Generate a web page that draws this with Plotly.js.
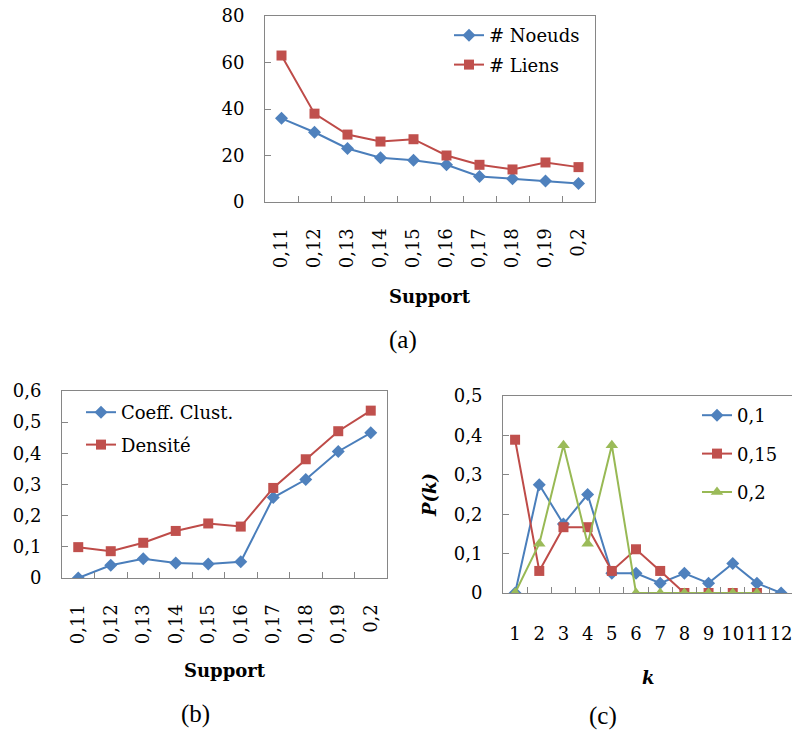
<!DOCTYPE html>
<html>
<head>
<meta charset="utf-8">
<script src="https://cdn.plot.ly/plotly-3.0.1.min.js"></script>
<style>
html,body{margin:0;padding:0;background:#fff;overflow:hidden;}
#chart{width:792px;height:731px;}
</style>
</head>
<body>
<div id="chart"></div>
<script>
// ---- Data ----
const supports = ['0,11','0,12','0,13','0,14','0,15','0,16','0,17','0,18','0,19','0,2'];
const noeuds = [36, 30, 23, 19, 18, 16, 11, 10, 9, 8];
const liens = [63, 38, 29, 26, 27, 20, 16, 14, 17, 15];
const coeffClust = [0, 0.041, 0.062, 0.048, 0.045, 0.052, 0.258, 0.316, 0.406, 0.466];
const densite = [0.099, 0.086, 0.113, 0.151, 0.175, 0.165, 0.289, 0.381, 0.471, 0.537];
const kAll = ['1','2','3','4','5','6','7','8','9','10','11','12'];
const k11 = ['1','2','3','4','5','6','7','8','9','10','11'];
const pk01 = [0, 0.275, 0.175, 0.25, 0.05, 0.05, 0.025, 0.05, 0.025, 0.075, 0.025, 0];
const pk015 = [0.389, 0.056, 0.167, 0.167, 0.056, 0.111, 0.056, 0, 0, 0, 0];
const pk02 = [0, 0.125, 0.375, 0.125, 0.375, 0, 0, 0, 0, 0, 0];

// ---- Styling ----
const W = 792, H = 731;
const px = v => v / W;
const py = v => 1 - v / H;
const BLUE_L = '#4A7EBB', BLUE_M = '#4F81BD';
const RED_L = '#BE4B48', RED_M = '#C0504D';
const GREEN_L = '#98B954', GREEN_M = '#9BBB59';
const FONT = 'DejaVu Serif';
const AX = '#868686';

function lineTrace(x, y, name, lc, mc, sym, size, xa, ya, legend, group) {
  return {
    x: x, y: y, name: name, type: 'scatter', mode: 'lines+markers',
    line: {color: lc, width: 2},
    marker: {color: mc, symbol: sym, size: size},
    xaxis: xa, yaxis: ya, legend: legend, legendgroup: group,
    hoverinfo: 'skip'
  };
}

const traces = [
  lineTrace(supports, noeuds, '# Noeuds', BLUE_L, BLUE_M, 'diamond', 10, 'x', 'y', 'legend', 'a1'),
  lineTrace(supports, liens, '# Liens', RED_L, RED_M, 'square', 10, 'x', 'y', 'legend', 'a2'),
  lineTrace(supports, coeffClust, 'Coeff. Clust.', BLUE_L, BLUE_M, 'diamond', 10, 'x2', 'y2', 'legend2', 'b1'),
  lineTrace(supports, densite, 'Densité', RED_L, RED_M, 'square', 10, 'x2', 'y2', 'legend2', 'b2'),
  lineTrace(kAll, pk01, '0,1', BLUE_L, BLUE_M, 'diamond', 10, 'x3', 'y3', 'legend3', 'c1'),
  lineTrace(k11, pk015, '0,15', RED_L, RED_M, 'square', 10, 'x3', 'y3', 'legend3', 'c2'),
  lineTrace(k11, pk02, '0,2', GREEN_L, GREEN_M, 'triangle-up', 11, 'x3', 'y3', 'legend3', 'c3')
];

function xCat(domain, cats, range, angle, standoff, mirror) {
  return {
    domain: domain, type: 'category', categoryarray: cats, categoryorder: 'array',
    range: range, showline: true, linecolor: AX, linewidth: 1, mirror: mirror,
    ticks: 'inside', ticklen: 6, tickcolor: AX, tickson: 'boundaries',
    showgrid: false, zeroline: false, tickangle: angle,
    ticklabelstandoff: standoff,
    tickfont: {family: FONT, size: 18, color: '#000'}, fixedrange: true
  };
}
function yLin(domain, range, dtick, mirror) {
  return {
    domain: domain, range: range, dtick: dtick, tick0: 0,
    showline: true, linecolor: AX, linewidth: 1, mirror: mirror,
    ticks: 'inside', ticklen: 6, tickcolor: AX,
    showgrid: false, zeroline: false, ticklabelstandoff: 16,
    tickfont: {family: FONT, size: 18, color: '#000'}, fixedrange: true
  };
}

function legendCfg(x, y, gap) {
  return {
    x: x, y: y, xanchor: 'left', yanchor: 'top',
    bgcolor: 'rgba(0,0,0,0)', borderwidth: 0,
    font: {family: FONT, size: 18, color: '#000'},
    tracegroupgap: gap, traceorder: 'grouped', itemwidth: 30
  };
}

const ann = (text, x, y, opts) => Object.assign({
  text: text, x: px(x), y: py(y), xref: 'paper', yref: 'paper',
  xanchor: 'center', yanchor: 'middle', showarrow: false,
  font: {family: FONT, size: 18, color: '#000'}
}, opts || {});

const layout = {
  width: W, height: H,
  margin: {l: 0, r: 0, t: 0, b: 0},
  paper_bgcolor: '#fff', plot_bgcolor: '#fff',
  separators: ', ',
  showlegend: true,
  xaxis: xCat([px(265), px(595)], supports, [-0.5, 9.5], -90, 18, true),
  yaxis: yLin([py(202), py(16)], [0, 80], 20, true),
  xaxis2: xCat([px(62), px(387)], supports, [-0.5, 9.5], -90, 18, true),
  yaxis2: yLin([py(578), py(391)], [0, 0.6], 0.1, true),
  xaxis3: xCat([px(503), 1], kAll, [-0.5, 11.45], 0, 24, true),
  yaxis3: Object.assign(yLin([py(593), py(396)], [0, 0.5], 0.1, false), {anchor: 'x3'}),
  legend: legendCfg(px(449), py(17), 3),
  legend2: legendCfg(px(81), py(394), 6),
  legend3: legendCfg(px(697), py(397), 12),
  annotations: [
    ann('<b>Support</b>', 430, 297),
    ann('(a)', 403, 340, {font: {family: 'Liberation Serif', size: 25, color: '#000'}}),
    ann('<b>Support</b>', 225, 670),
    ann('(b)', 195, 714, {font: {family: 'Liberation Serif', size: 25, color: '#000'}}),
    ann('<b><i>k</i></b>', 648, 677),
    ann('(c)', 603, 716, {font: {family: 'Liberation Serif', size: 25, color: '#000'}}),
    ann('<b><i>P(k)</i></b>', 430, 495, {textangle: -90})
  ]
};
layout.xaxis.anchor = 'y';
layout.yaxis.anchor = 'x';
layout.xaxis2.anchor = 'y2';
layout.yaxis2.anchor = 'x2';
layout.xaxis3.anchor = 'y3';

Plotly.newPlot('chart', traces, layout, {staticPlot: true, displayModeBar: false});
</script>
</body>
</html>
